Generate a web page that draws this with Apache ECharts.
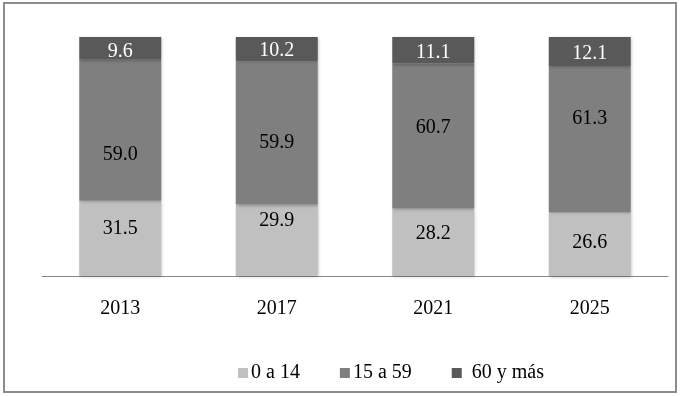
<!DOCTYPE html>
<html>
<head>
<meta charset="utf-8">
<script src="https://cdn.jsdelivr.net/npm/echarts@6/dist/echarts.min.js"></script>
<style>
  html, body { margin: 0; padding: 0; background: #fff; }
  #chart { width: 680px; height: 396px; }
</style>
</head>
<body>
<div id="chart"></div>
<script>
const years = ['2013', '2017', '2021', '2025'];
const young = [31.5, 29.9, 28.2, 26.6];
const adult = [59.0, 59.9, 60.7, 61.3];
const elder = [9.6, 10.2, 11.1, 12.1];
const seriesNames = ['0 a 14', '15 a 59', '60 y más'];

// label nudges to match where the labels sit in the original
const youngOffsets = [-10, -20, -9, -1];
const adultOffsets = [25, 10, -8, -20];
const elderOffsets = [3, 2, 2, 2];

const chart = echarts.init(document.getElementById('chart'));
const font = '"Liberation Serif", "Times New Roman", serif';

const makeSeries = (name, values, offsets, color, labelColor) => ({
    name: name,
    type: 'bar',
    stack: 'total',
    barWidth: 82,
    itemStyle: {
        color: color,
        shadowColor: 'rgba(0,0,0,0.25)',
        shadowBlur: 3,
        shadowOffsetX: 1,
        shadowOffsetY: 1
    },
    label: {
        show: true,
        position: 'inside',
        color: labelColor,
        fontFamily: font,
        fontSize: 20,
        formatter: (p) => p.value.toFixed(1)
    },
    data: values.map((v, i) => ({
        value: v,
        label: { offset: [0, offsets[i]] }
    }))
});

chart.setOption({
    animation: false,
    textStyle: { fontFamily: font },
    graphic: [{
        type: 'rect',
        shape: { x: 4, y: 3, width: 672, height: 389 },
        style: { fill: 'none', stroke: '#8c8c8c', lineWidth: 2 },
        z: -1
    }],
    grid: { left: 42, right: 12, top: 37, bottom: 120 },
    legend: {
        left: 233,
        top: 358,
        itemWidth: 10,
        itemHeight: 10,
        itemGap: 40,
        icon: 'rect',
        textStyle: { fontFamily: font, fontSize: 20, color: '#000', padding: [0, 0, 0, -2] },
        data: [
            { name: seriesNames[0] },
            { name: seriesNames[1] },
            { name: seriesNames[2], textStyle: { padding: [0, 0, 0, 5] } }
        ]
    },
    xAxis: {
        type: 'category',
        data: years,
        axisLine: { lineStyle: { color: '#888', width: 1 } },
        axisTick: { show: false },
        axisLabel: { color: '#000', fontFamily: font, fontSize: 20, margin: 23 }
    },
    yAxis: {
        type: 'value',
        min: 0,
        max: 100,
        show: false,
        splitLine: { show: false }
    },
    series: [
        makeSeries(seriesNames[0], young, youngOffsets, '#c0c0c0', '#000'),
        makeSeries(seriesNames[1], adult, adultOffsets, '#7f7f7f', '#000'),
        makeSeries(seriesNames[2], elder, elderOffsets, '#595959', '#fff')
    ]
});
</script>
</body>
</html>
